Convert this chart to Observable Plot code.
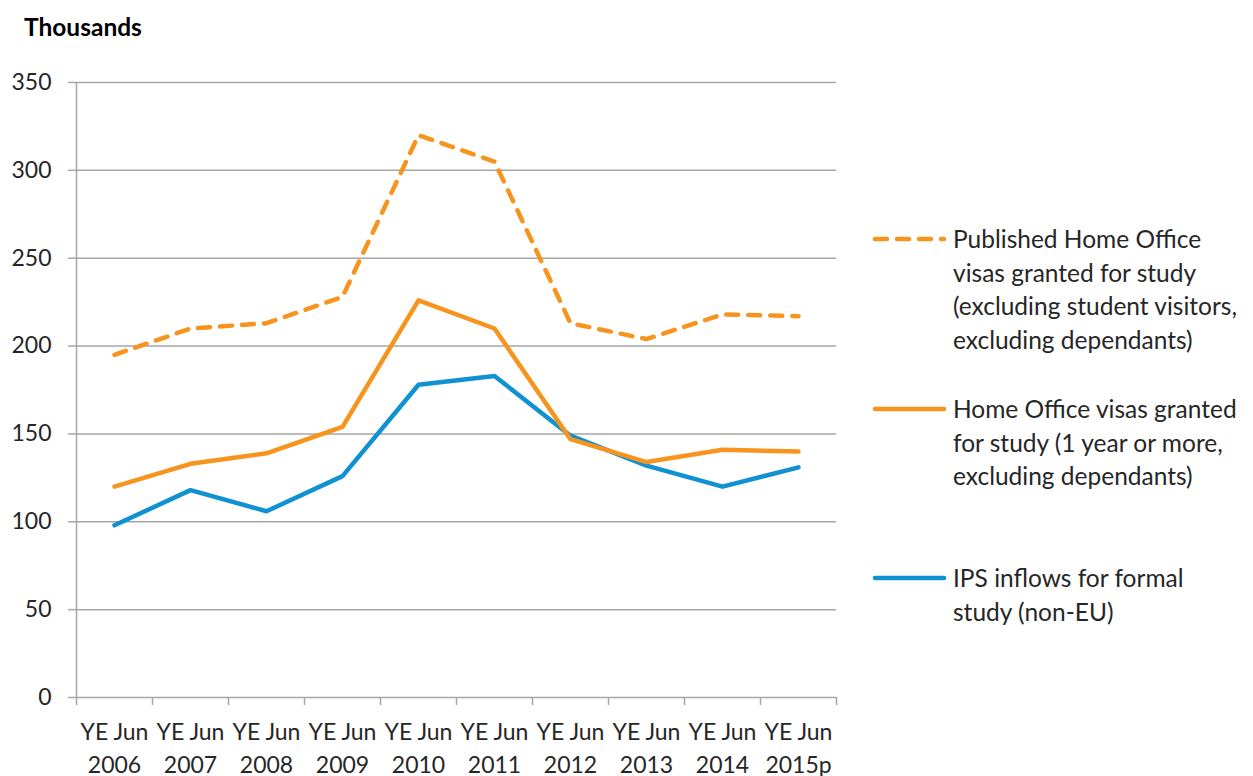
<!DOCTYPE html>
<html>
<head>
<meta charset="utf-8">
<script src="https://cdn.jsdelivr.net/npm/d3@7"></script>
<script src="https://cdn.jsdelivr.net/npm/@observablehq/plot@0.6"></script>
<style>
  html, body { margin: 0; padding: 0; background: #fff; }
  body { width: 1253px; height: 776px; position: relative; overflow: hidden; font-family: Lato, "Noto Sans", sans-serif; color: #262626; }
  #title { position: absolute; left: 24px; top: 12px; font-size: 24.5px; font-weight: bold; color: #000; line-height: 30px; }
  #chart { position: absolute; left: 0; top: 56px; }
  .leg { position: absolute; left: 872px; }
  .leg svg { position: absolute; left: 0; top: 0; }
  .leg div { position: absolute; left: 81px; top: 0; font-size: 24.5px; line-height: 33.7px; white-space: nowrap; color: #262626; }
</style>
</head>
<body>
<div id="title">Thousands</div>
<div id="chart"></div>
<div id="legend"></div>
<script>
const categories = ["YE Jun\n2006","YE Jun\n2007","YE Jun\n2008","YE Jun\n2009","YE Jun\n2010","YE Jun\n2011","YE Jun\n2012","YE Jun\n2013","YE Jun\n2014","YE Jun\n2015p"];
const published = [195, 210, 213, 228, 320, 305, 213, 204, 218, 217];
const homeOffice = [120, 133, 139, 154, 226, 210, 147, 134, 141, 140];
const ips = [98, 118, 106, 126, 178, 183, 149, 132, 120, 131];
const yTicks = [0, 50, 100, 150, 200, 250, 300, 350];
const seriesNames = [
  "Published Home Office\nvisas granted for study\n(excluding student visitors,\nexcluding dependants)",
  "Home Office visas granted\nfor study (1 year or more,\nexcluding dependants)",
  "IPS inflows for formal\nstudy (non-EU)"
];
const seriesColors = ["#F7941E", "#F7941E", "#0F91D2"];
const seriesDash = ["12,10", null, null];

const rows = (vals) => vals.map((v, i) => ({x: i + 0.5, y: v}));
const gray = "#a6a6a6";

const chart = Plot.plot({
  width: 1253,
  height: 720,
  marginTop: 26,
  marginBottom: 79,
  marginLeft: 76,
  marginRight: 417,
  style: {fontFamily: "Lato, 'Noto Sans', sans-serif", fontSize: "23px", color: "#262626", background: "transparent", overflow: "visible"},
  x: {domain: [0, categories.length], axis: null},
  y: {domain: [0, 350], axis: null},
  marks: [
    Plot.gridY(yTicks, {stroke: gray, strokeOpacity: 1, strokeWidth: 1.5}),
    Plot.ruleX([0], {stroke: gray, strokeWidth: 1.5}),
    Plot.axisY(yTicks, {label: null, tickSize: 8, tickPadding: 17, stroke: gray, strokeWidth: 1.5, fill: "#262626", fontSize: 23, tickFormat: d => String(d)}),
    Plot.axisX(d3.range(0, categories.length + 1), {label: null, tickSize: 8, stroke: gray, strokeWidth: 1.5, tickFormat: () => ""}),
    Plot.axisX(categories.map((c, i) => i + 0.5), {label: null, tickSize: 0, tickPadding: 19, fill: "#262626", fontSize: 23, lineHeight: 1.43, tickFormat: v => categories[Math.floor(v)]}),
    Plot.line(rows(ips), {x: "x", y: "y", stroke: seriesColors[2], strokeWidth: 4.5, strokeLinejoin: "round", strokeLinecap: "round"}),
    Plot.line(rows(homeOffice), {x: "x", y: "y", stroke: seriesColors[1], strokeWidth: 4.5, strokeLinejoin: "round", strokeLinecap: "round"}),
    Plot.line(rows(published), {x: "x", y: "y", stroke: seriesColors[0], strokeWidth: 4.5, strokeDasharray: seriesDash[0], strokeLinejoin: "round", strokeLinecap: "round"})
  ]
});
document.getElementById("chart").appendChild(chart);

// legend
const legendTops = [222, 392, 561];
const legend = document.getElementById("legend");
seriesNames.forEach((name, i) => {
  const item = document.createElement("div");
  item.className = "leg";
  item.style.top = legendTops[i] + "px";
  const dash = seriesDash[i] ? ` stroke-dasharray="${seriesDash[i]}"` : "";
  item.innerHTML = `<svg width="80" height="34"><line x1="3" x2="72" y1="17" y2="17" stroke="${seriesColors[i]}" stroke-width="4.5" stroke-linecap="round"${dash}/></svg>`;
  const t = document.createElement("div");
  t.innerHTML = name.split("\n").join("<br>");
  item.appendChild(t);
  legend.appendChild(item);
});
</script>
</body>
</html>
